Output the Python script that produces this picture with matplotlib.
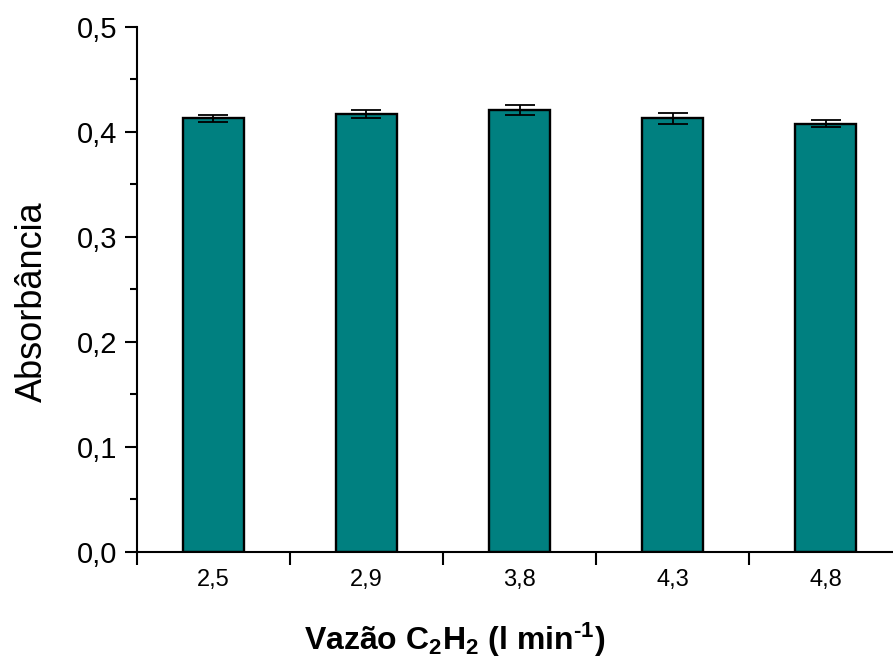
import numpy as np
import matplotlib.pyplot as plt
from matplotlib.ticker import MultipleLocator, FixedLocator, NullFormatter

plt.rcParams['font.family'] = 'Liberation Sans'
plt.rcParams['mathtext.fontset'] = 'custom'
plt.rcParams['mathtext.rm'] = 'Liberation Sans:bold'
plt.rcParams['mathtext.default'] = 'rm'

# C2H2 flow rates and measured absorbance (mean +/- sd)
flow_labels = ['2,5', '2,9', '3,8', '4,3', '4,8']
absorbance = [0.413, 0.417, 0.421, 0.413, 0.408]
absorbance_err = [0.0035, 0.0035, 0.005, 0.005, 0.0035]

fig = plt.figure(figsize=(8.93, 6.64), dpi=100)
ax = fig.add_axes([0.1534, 0.1687, 0.8567, 0.7907])

x = np.arange(1, len(flow_labels) + 1)
ax.bar(x, absorbance, width=0.4, color='#008080', edgecolor='black', linewidth=1.7,
       yerr=absorbance_err, capsize=11,
       error_kw=dict(elinewidth=1.3, capthick=1.3, ecolor='black'))

ax.set_xlim(0.5, 5.5)
ax.set_ylim(0, 0.5)

# category labels sit between the boundary ticks
ax.xaxis.set_major_locator(FixedLocator(np.arange(0.5, 5.6, 1.0)))
ax.xaxis.set_major_formatter(NullFormatter())
ax.xaxis.set_minor_locator(FixedLocator(x))
ax.set_xticklabels(flow_labels, minor=True)
ax.tick_params(axis='x', which='major', direction='out', length=9, width=1.5)
ax.tick_params(axis='x', which='minor', length=0, pad=12, labelsize=17)

ax.yaxis.set_major_locator(MultipleLocator(0.1))
ax.yaxis.set_minor_locator(MultipleLocator(0.05))
ax.yaxis.set_major_formatter(lambda v, pos: f'{v:.1f}'.replace('.', ','))
ax.tick_params(axis='y', which='major', direction='out', length=9, width=1.5,
               labelsize=21, pad=5)
ax.tick_params(axis='y', which='minor', direction='out', length=5, width=1.5)

for side in ('top', 'right'):
    ax.spines[side].set_visible(False)
for side in ('left', 'bottom'):
    ax.spines[side].set_linewidth(1.5)

ax.set_ylabel('Absorbância', fontsize=26)
ax.yaxis.set_label_coords(-0.114, 0.476)
fig.text(0.5095, 0.021, r'Vazão C$_2$H$_2$ (l min$^{\text{-}1}$)', fontsize=23,
         fontweight='bold', ha='center', va='baseline')

fig.savefig('out.png', dpi=100)
